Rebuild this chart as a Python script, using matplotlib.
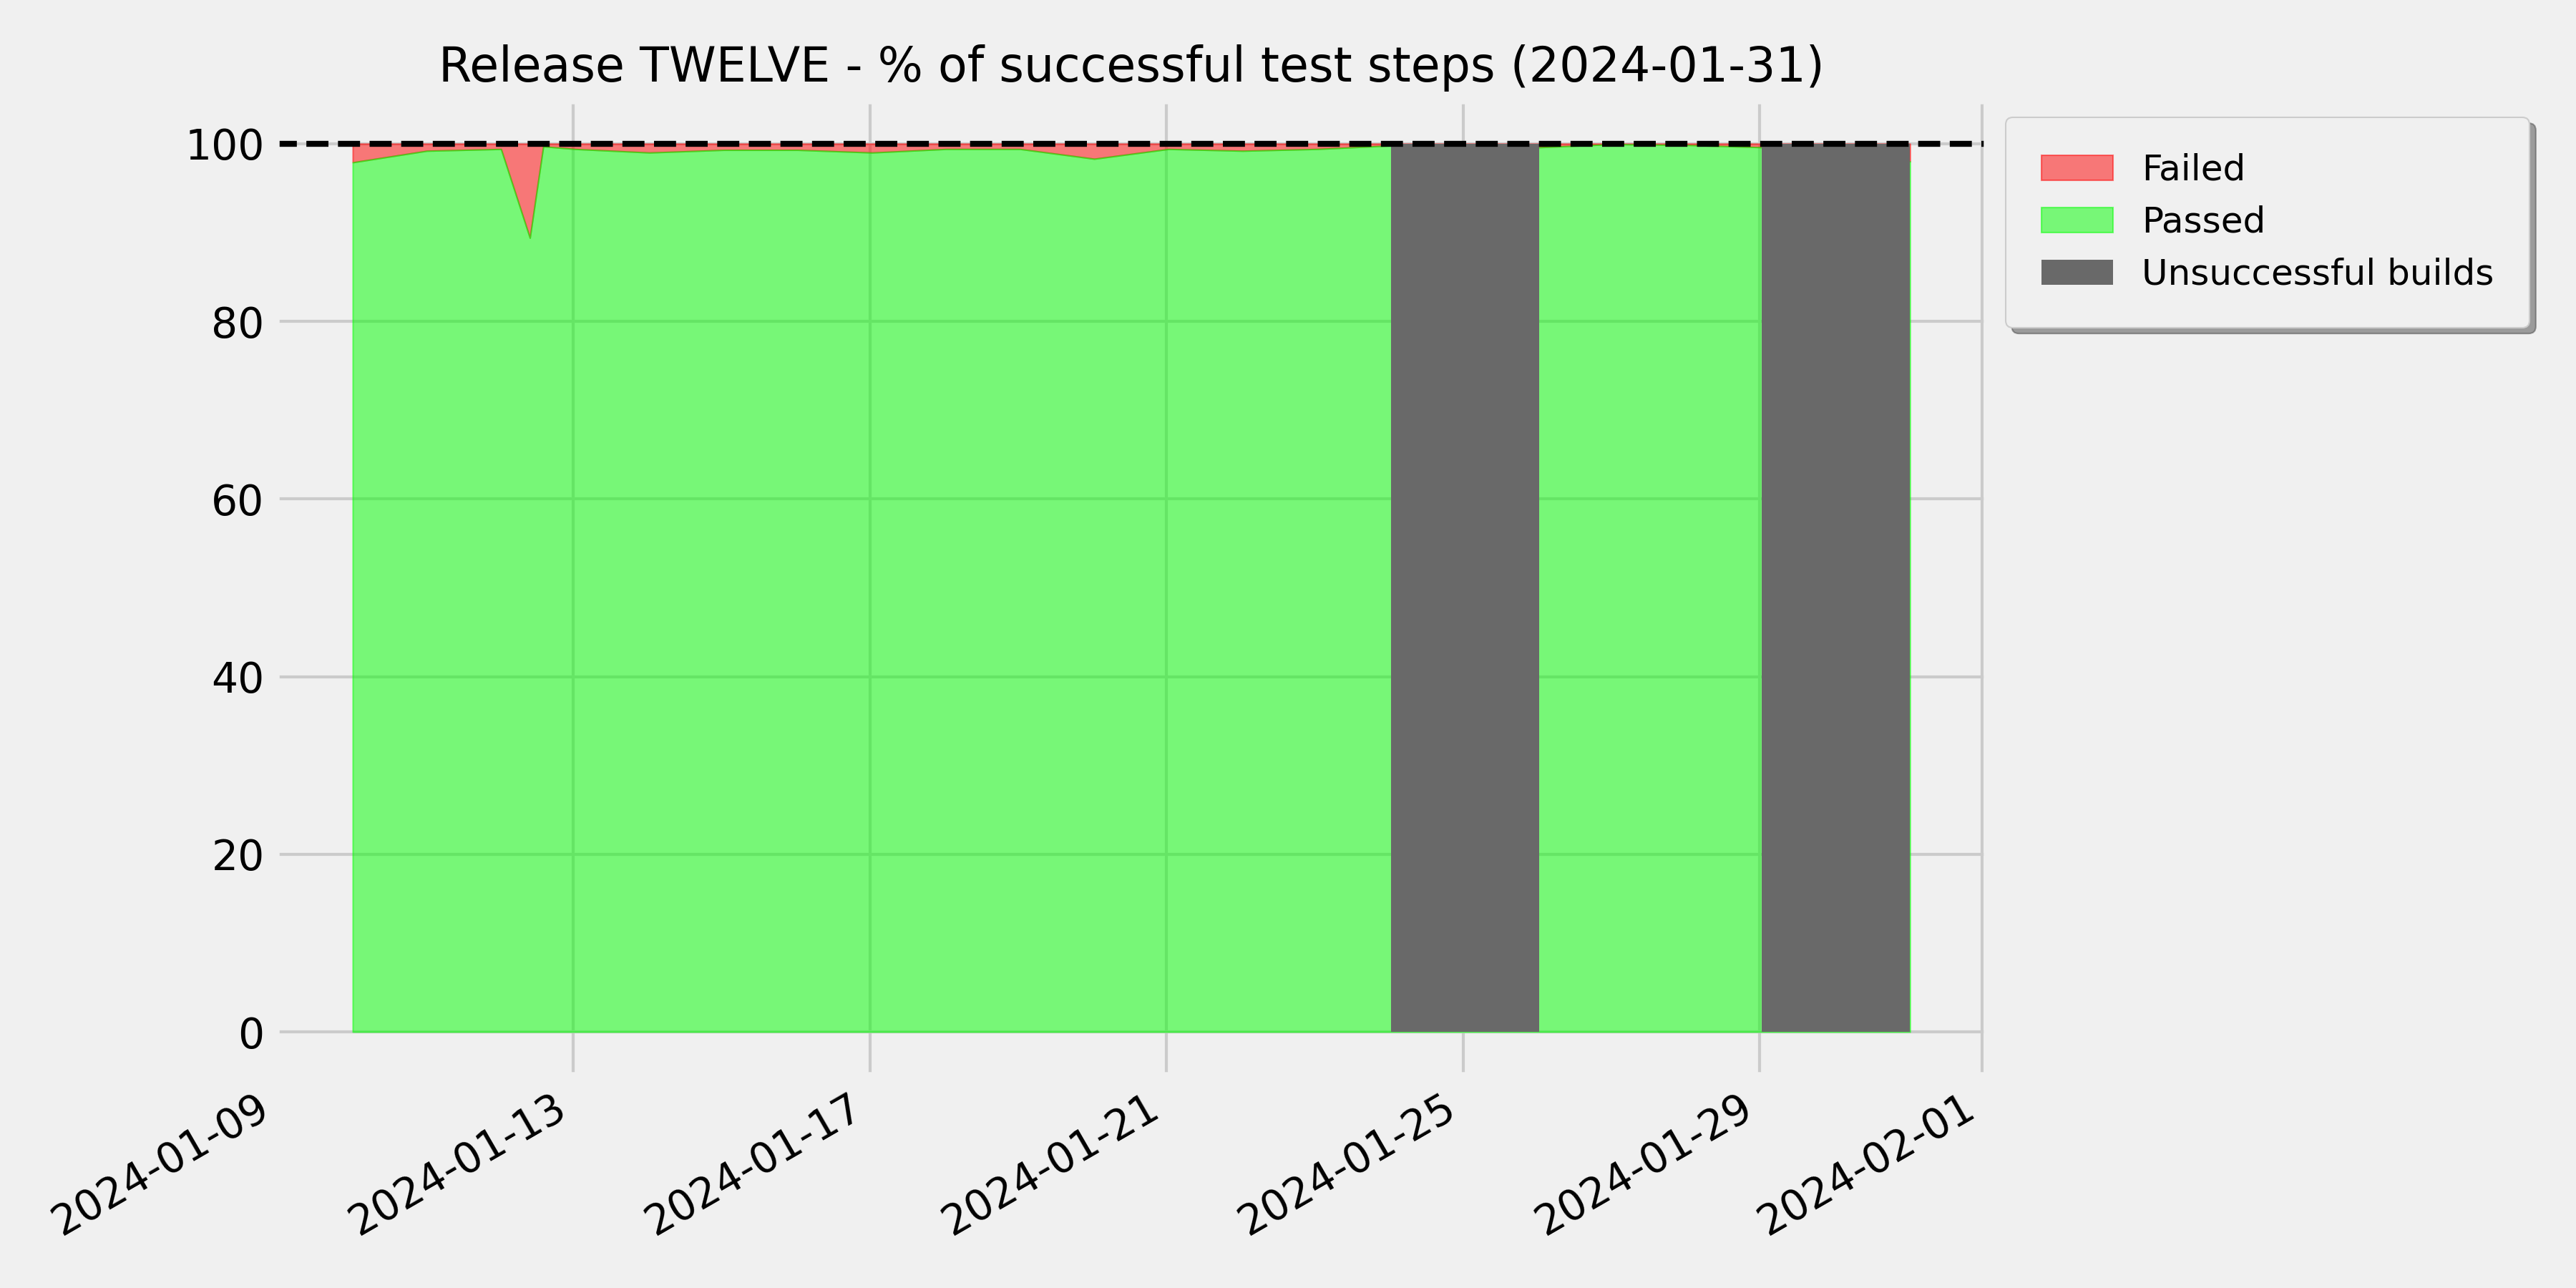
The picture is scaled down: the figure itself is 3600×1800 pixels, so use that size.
import matplotlib
matplotlib.use("Agg")
import matplotlib.pyplot as plt
import numpy as np
import pandas as pd

plt.style.use("fivethirtyeight")

# ---- data -----------------------------------------------------------
build_times = [
    "2024-01-10 00:40", "2024-01-11 00:40", "2024-01-12 00:40",
    "2024-01-12 10:00", "2024-01-12 14:20", "2024-01-13 00:40",
    "2024-01-14 00:40", "2024-01-15 00:40", "2024-01-16 00:40",
    "2024-01-17 00:40", "2024-01-18 00:40", "2024-01-19 00:40",
    "2024-01-20 00:40", "2024-01-21 00:40", "2024-01-22 00:40",
    "2024-01-23 00:40", "2024-01-24 00:40", "2024-01-25 00:40",
    "2024-01-26 00:40", "2024-01-27 00:40", "2024-01-28 00:40",
    "2024-01-29 00:40", "2024-01-30 00:40", "2024-01-31 00:40",
]
passed_pct = [
    97.9, 99.2, 99.4,
    89.4, 99.7, 99.4,
    99.0, 99.3, 99.3,
    99.0, 99.4, 99.4,
    98.3, 99.4, 99.2,
    99.4, 99.8, 99.7,
    99.6, 99.95, 99.85,
    99.6, 99.5, 98.0,
]
failed_pct = [
    2.1, 0.8, 0.6,
    10.6, 0.3, 0.6,
    1.0, 0.7, 0.7,
    1.0, 0.6, 0.6,
    1.7, 0.6, 0.8,
    0.6, 0.2, 0.3,
    0.4, 0.05, 0.15,
    0.4, 0.5, 2.0,
]
unsuccessful_start = ["2024-01-24 00:40", "2024-01-29 00:40"]
unsuccessful_end = ["2024-01-26 00:40", "2024-01-31 00:40"]
series_labels = ["Failed", "Passed", "Unsuccessful builds"]
target_pct = 100
title = "Release TWELVE - % of successful test steps (2024-01-31)"

# ---- plot -----------------------------------------------------------
x = pd.to_datetime(build_times).to_numpy()
passed = np.array(passed_pct)
failed = np.array(failed_pct)

fig, ax = plt.subplots(figsize=(12, 6), dpi=300)
ax.use_sticky_edges = False

ax.fill_between(x, passed, passed + failed, color="red", alpha=0.5,
                label=series_labels[0])
ax.fill_between(x, 0, passed, color="lime", alpha=0.5,
                label=series_labels[1])
for i, (s, e) in enumerate(zip(unsuccessful_start, unsuccessful_end)):
    span = pd.to_datetime([s, e]).to_numpy()
    ax.fill_between(span, 0, target_pct, color="dimgray", lw=0,
                    label=series_labels[2] if i == 0 else None)

ax.axhline(target_pct, color="black", linestyle="--", linewidth=2)

ax.set_title(title, fontsize=16)
ax.legend(loc="upper left", bbox_to_anchor=(1, 1), fontsize=12, shadow=True,
          borderpad=1.0)

fig.autofmt_xdate()
fig.subplots_adjust(left=0.1067, right=0.7717, bottom=0.1644, top=0.9229)

fig.savefig("out.png", dpi=300)
